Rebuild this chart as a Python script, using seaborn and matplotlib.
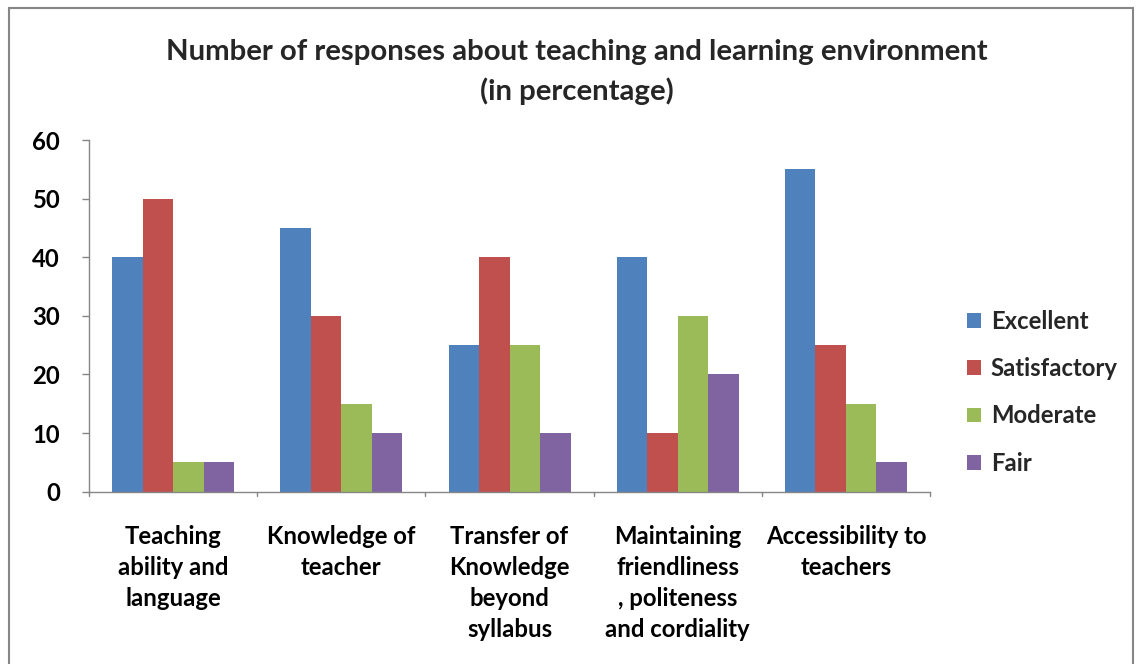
import matplotlib
matplotlib.use("Agg")
import matplotlib.pyplot as plt
import seaborn as sns
import pandas as pd
from matplotlib.patches import Rectangle

categories = ["Teaching\nability and\nlanguage", "Knowledge of\nteacher", "Transfer of\nKnowledge\nbeyond\nsyllabus",
              "Maintaining\nfriendliness\n, politeness\nand cordiality", "Accessibility to\nteachers"]
series = ["Excellent", "Satisfactory", "Moderate", "Fair"]
excellent = [40, 45, 25, 40, 55]
satisfactory = [50, 30, 40, 10, 25]
moderate = [5, 15, 25, 30, 15]
fair = [5, 10, 10, 20, 5]
colors = ["#4F81BD", "#C0504D", "#9BBB59", "#8064A2"]
yticks = [0, 10, 20, 30, 40, 50, 60]

rows = []
for s, vals in zip(series, [excellent, satisfactory, moderate, fair]):
    for c, v in zip(categories, vals):
        rows.append({"Category": c, "Rating": s, "Value": v})
df = pd.DataFrame(rows)

sns.set_theme(style="white")
plt.rcParams["font.family"] = ["Lato", "DejaVu Sans"]
plt.rcParams["font.weight"] = "bold"

FS = 17.2

fig = plt.figure(figsize=(11.37, 6.64), dpi=100)
ax = fig.add_axes([0.0783, 0.2595, 0.7397, 0.5295])
sns.barplot(data=df, x="Category", y="Value", hue="Rating", palette=colors,
            width=0.725, gap=0, saturation=1, ax=ax, legend=True, edgecolor="none")

ax.set_ylim(0, 60)
ax.set_xlim(-0.5, 4.5)
ax.set_yticks(yticks)
ax.set_yticklabels([str(t) for t in yticks], fontsize=FS, fontweight="bold", color="#000000")
ax.set_xticks(range(len(categories)))
ax.set_xticklabels(categories, fontsize=FS, fontweight="bold", color="#000000", linespacing=1.42)
ax.tick_params(axis="x", length=0, pad=24)
ax.tick_params(axis="y", length=5, width=1, color="#868686", left=True, pad=16)
# category boundary ticks
for b in [-0.5, 0.5, 1.5, 2.5, 3.5, 4.5]:
    ax.plot([b, b], [0, -0.012], transform=ax.get_xaxis_transform(), color="#868686", lw=1, clip_on=False)
ax.set_xlabel("")
ax.set_ylabel("")
for side in ["top", "right"]:
    ax.spines[side].set_visible(False)
for side in ["left", "bottom"]:
    ax.spines[side].set_color("#868686")
    ax.spines[side].set_linewidth(1)

leg = ax.legend(loc="center left", bbox_to_anchor=(1.03, 0.283), frameon=False, fontsize=FS,
                handlelength=0.58, handleheight=0.58, handletextpad=0.4, labelspacing=1.02, borderpad=0)
for t in leg.get_texts():
    t.set_fontweight("bold")

fig.text(0.507, 0.922, "Number of responses about teaching and learning environment",
         ha="center", va="center", fontsize=21.2, fontweight="bold")
fig.text(0.507, 0.8625, "(in percentage)", ha="center", va="center", fontsize=21.2, fontweight="bold")

fig.patches.append(Rectangle((9 / 1137, -0.05), (1133 - 9) / 1137, 1 - 8 / 664 + 0.05,
                             transform=fig.transFigure, fill=False, edgecolor="#868686", lw=1.5))

fig.savefig("out.png", dpi=100, facecolor="white")
